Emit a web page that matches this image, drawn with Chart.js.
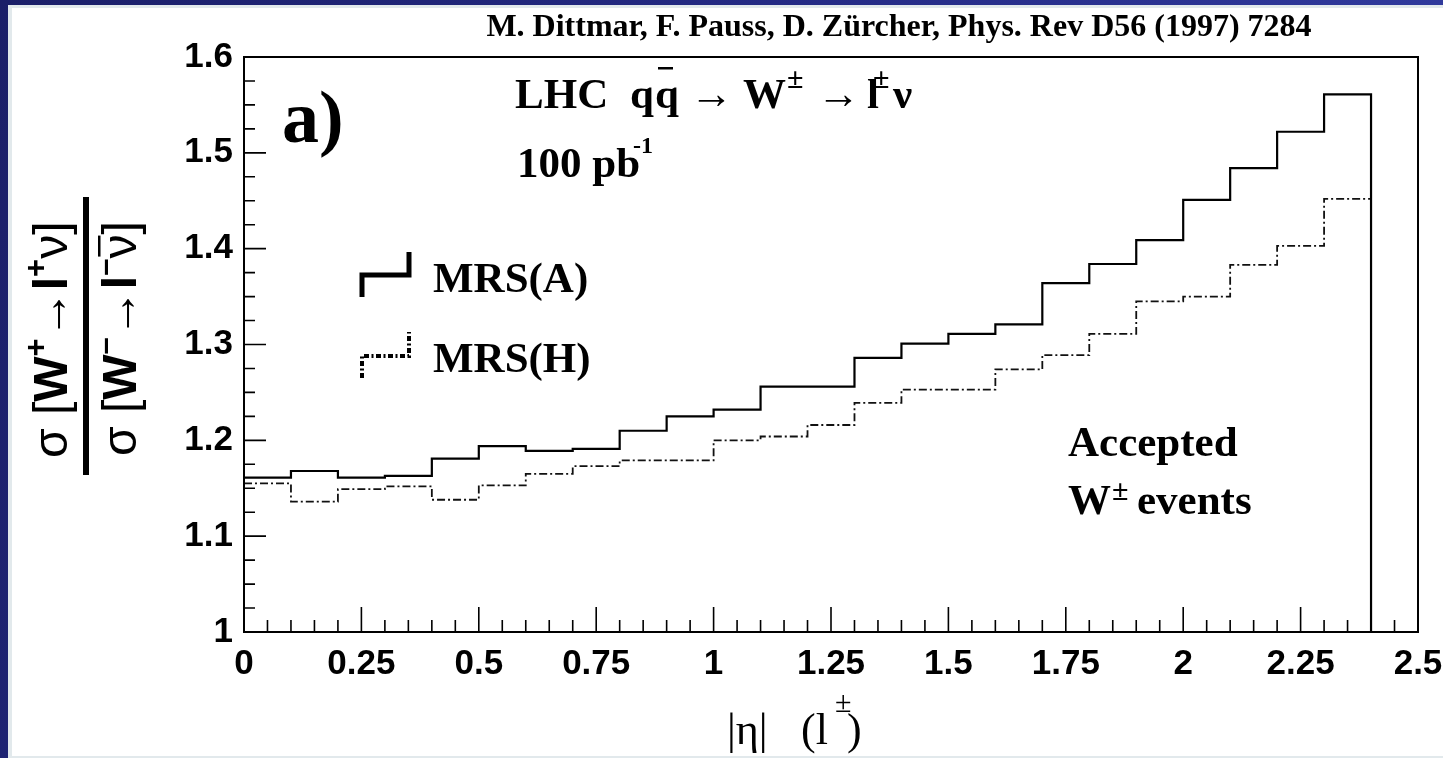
<!DOCTYPE html>
<html>
<head>
<meta charset="utf-8">
<script src="https://cdn.jsdelivr.net/npm/chart.js@4.4.1/dist/chart.umd.min.js"></script>
<style>
  html, body { margin: 0; padding: 0; }
  body {
    width: 1443px; height: 758px; overflow: hidden; position: relative;
    background: linear-gradient(110deg, #1b1f68 0%, #242a84 45%, #3540a6 100%);
  }
  #panel {
    position: absolute; left: 8px; top: 5px; right: 0; bottom: 0;
    background: #fff; box-sizing: border-box;
    border-left: 4px solid #e2e9ec; border-top: 3px solid #e2e9ec; border-bottom: 2px solid #e2e9ec;
  }
  #ratioChart { position: absolute; left: 0; top: 0; }
</style>
</head>
<body>
<div id="panel"></div>
<canvas id="ratioChart" width="1443" height="758"></canvas>
<script>
// |eta| bins (lower edges), last bin closes at etaMax
const binLow = [0, 0.1, 0.2, 0.3, 0.4, 0.5, 0.6, 0.7, 0.8, 0.9, 1.0, 1.1,
                1.2, 1.3, 1.4, 1.5, 1.6, 1.7, 1.8, 1.9, 2.0, 2.1, 2.2, 2.3];
const etaMax = 2.4;

// sigma(W+ -> l+ nu) / sigma(W- -> l- nubar) per bin
const ratioMRSA = [1.161, 1.168, 1.161, 1.163, 1.181, 1.194, 1.189, 1.191, 1.210, 1.225, 1.232, 1.256,
                   1.256, 1.286, 1.301, 1.311, 1.321, 1.364, 1.384, 1.409, 1.451, 1.484, 1.522, 1.561];
const ratioMRSH = [1.155, 1.136, 1.149, 1.152, 1.138, 1.153, 1.165, 1.173, 1.179, 1.179, 1.200, 1.204,
                   1.216, 1.239, 1.253, 1.253, 1.274, 1.289, 1.311, 1.345, 1.350, 1.383, 1.403, 1.452];

const xTickLabels = ['0', '0.25', '0.5', '0.75', '1', '1.25', '1.5', '1.75', '2', '2.25', '2.5'];
const yTickLabels = ['1', '1.1', '1.2', '1.3', '1.4', '1.5', '1.6'];

const citation = 'M. Dittmar, F. Pauss, D. Z\u00fcrcher, Phys. Rev D56 (1997) 7284';

const serif = (size, weight) => `${weight || 'normal'} ${size}px "Liberation Serif", "Times New Roman", serif`;
const sans = (size, weight) => `${weight || 'normal'} ${size}px "Liberation Sans", Arial, sans-serif`;
const tickFont = { family: '"Liberation Sans", Arial, sans-serif', size: 35, weight: 'bold' };

// histogram outline: one point per lower edge, closed at etaMax (optionally dropped to the axis)
function histPoints(vals, dropTo) {
  const pts = binLow.map((x, i) => ({ x: x, y: vals[i] }));
  pts.push({ x: etaMax, y: vals[vals.length - 1] });
  if (dropTo !== undefined) pts.push({ x: etaMax, y: dropTo });
  return pts;
}

// draws a list of text pieces one after another, returns the end position
function runs(ctx, parts, x, y) {
  let cx = x;
  for (const p of parts) {
    ctx.font = p.font;
    const w = ctx.measureText(p.t).width;
    ctx.fillText(p.t, cx + (p.dx || 0), y + (p.dy || 0));
    if (p.bar) ctx.fillRect(cx + (p.dx || 0) + 2, y + p.bar, w - 3, 2.5);
    cx += w + (p.dx || 0) + (p.gap || 0);
  }
  return cx;
}

// frame with ROOT-style inward ticks
const frameTicks = {
  id: 'frameTicks',
  afterDatasetsDraw(chart) {
    const { ctx, chartArea: a, scales: { x, y } } = chart;
    ctx.save();
    ctx.strokeStyle = '#000';
    ctx.lineWidth = 2;
    ctx.strokeRect(a.left, a.top, a.right - a.left, a.bottom - a.top);
    ctx.lineWidth = 1.6;
    ctx.beginPath();
    for (let k = 1; k < 50; k++) {
      const px = x.getPixelForValue(k * 0.05);
      const len = k % 5 === 0 ? 25 : 12;
      ctx.moveTo(px, a.bottom);
      ctx.lineTo(px, a.bottom - len);
    }
    for (let k = 1; k < 24; k++) {
      const py = y.getPixelForValue(1 + k * 0.025);
      const len = k % 4 === 0 ? 22 : 11;
      ctx.moveTo(a.left, py);
      ctx.lineTo(a.left + len, py);
    }
    ctx.stroke();
    ctx.restore();
  }
};

// labels, legend and axis titles
const annotations = {
  id: 'annotations',
  afterDraw(chart) {
    const { ctx, chartArea: a } = chart;
    const L = a.left, T = a.top;
    ctx.save();
    ctx.fillStyle = '#000';
    ctx.strokeStyle = '#000';
    ctx.textBaseline = 'alphabetic';

    ctx.font = serif(32, 'bold');
    ctx.textAlign = 'center';
    ctx.fillText(citation, L + 655, T - 21);
    ctx.textAlign = 'left';

    ctx.font = serif(74, 'bold');
    ctx.fillText('a)', L + 38, T + 85);

    // process line
    const big = serif(43, 'bold');
    const arrow = serif(43);
    const sup = serif(30, 'bold');
    ctx.font = big;
    ctx.fillText('LHC', L + 271, T + 51);
    ctx.fillText('q', L + 386, T + 51);
    ctx.fillText('q', L + 411, T + 51);
    ctx.fillRect(L + 414, T + 10, 15, 2.5);
    ctx.font = arrow;
    ctx.fillText('\u2192', L + 446, T + 51);
    ctx.fillText('\u2192', L + 573, T + 51);
    ctx.font = big;
    ctx.fillText('W', L + 499, T + 51);
    ctx.fillText('l', L + 623, T + 51);
    ctx.fillText('\u03bd', L + 649, T + 51);
    ctx.font = sup;
    ctx.fillText('\u00b1', L + 543, T + 31);
    ctx.fillText('\u00b1', L + 629, T + 31);

    ctx.font = big;
    ctx.fillText('100 pb', L + 273, T + 120);
    ctx.font = serif(24, 'bold');
    ctx.fillText('-1', L + 389, T + 96);

    // legend
    ctx.lineWidth = 5;
    ctx.lineCap = 'butt';
    ctx.beginPath();
    ctx.moveTo(L + 118, T + 240);
    ctx.lineTo(L + 118, T + 218);
    ctx.lineTo(L + 165, T + 218);
    ctx.lineTo(L + 165, T + 195);
    ctx.stroke();
    ctx.lineWidth = 4;
    ctx.setLineDash([5, 2.5, 2, 2.5]);
    ctx.beginPath();
    ctx.moveTo(L + 118, T + 321);
    ctx.lineTo(L + 118, T + 299);
    ctx.lineTo(L + 165, T + 299);
    ctx.lineTo(L + 165, T + 275);
    ctx.stroke();
    ctx.setLineDash([]);
    ctx.font = serif(43, 'bold');
    ctx.fillText('MRS(A)', L + 189, T + 235);
    ctx.fillText('MRS(H)', L + 189, T + 315);

    ctx.fillText('Accepted', L + 824, T + 399);
    ctx.fillText('W', L + 824, T + 457);
    ctx.fillText('events', L + 893, T + 457);
    ctx.font = serif(30, 'bold');
    ctx.fillText('\u00b1', L + 868, T + 443);

    // x axis title
    ctx.font = serif(44);
    ctx.fillText('|\u03b7|', L + 483, a.bottom + 112);
    ctx.fillText('(l', L + 557, a.bottom + 112);
    ctx.fillText(')', L + 603, a.bottom + 112);
    ctx.font = serif(30);
    ctx.fillText('\u00b1', L + 591, a.bottom + 80);

    // y axis title: rotated fraction
    const fs = 48, fsup = 31;
    const numer = [
      { t: '\u03c3', font: sans(fs) },
      { t: ' [', font: sans(fs) },
      { t: 'W', font: sans(fs, 'bold') },
      { t: '+', font: sans(fsup, 'bold'), dy: -21 },
      { t: '\u2192', font: sans(fs) },
      { t: 'l', font: sans(fs, 'bold') },
      { t: '+', font: sans(fsup, 'bold'), dy: -21 },
      { t: '\u03bd', font: sans(fs) },
      { t: ']', font: sans(fs) }
    ];
    const denom = [
      { t: '\u03c3', font: sans(fs) },
      { t: ' [', font: sans(fs) },
      { t: 'W', font: sans(fs, 'bold') },
      { t: '\u2013', font: sans(fsup, 'bold'), dy: -21 },
      { t: '\u2192', font: sans(fs) },
      { t: 'l', font: sans(fs, 'bold') },
      { t: '\u2013', font: sans(fsup, 'bold'), dy: -21 },
      { t: '\u03bd', font: sans(fs), bar: -38 },
      { t: ']', font: sans(fs) }
    ];
    ctx.save();
    ctx.translate(L - 177, T + 401);
    ctx.rotate(-Math.PI / 2);
    runs(ctx, numer, 0, 0);
    ctx.restore();
    ctx.save();
    ctx.translate(L - 108, T + 399);
    ctx.rotate(-Math.PI / 2);
    runs(ctx, denom, 0, 0);
    ctx.restore();
    ctx.fillRect(L - 161, T + 140, 6, 278);

    ctx.restore();
  }
};

new Chart(document.getElementById('ratioChart'), {
  type: 'line',
  data: {
    datasets: [
      {
        label: 'MRS(A)',
        data: histPoints(ratioMRSA, 1.0),
        borderColor: '#000',
        borderWidth: 2.2,
        stepped: 'before',
        pointRadius: 0,
        fill: false
      },
      {
        label: 'MRS(H)',
        data: histPoints(ratioMRSH),
        borderColor: '#111',
        borderWidth: 1.8,
        borderDash: [8, 3, 2, 3],
        stepped: 'before',
        pointRadius: 0,
        fill: false
      }
    ]
  },
  options: {
    responsive: false,
    animation: false,
    devicePixelRatio: 1,
    layout: { padding: { top: 57, right: 25, left: 0, bottom: 0 } },
    plugins: {
      legend: { display: false },
      tooltip: { enabled: false }
    },
    scales: {
      x: {
        type: 'linear',
        min: 0,
        max: 2.5,
        afterFit: s => { s.height = 126; s.paddingLeft = 0; s.paddingRight = 0; },
        grid: { display: false, drawTicks: false },
        border: { display: false },
        ticks: {
          stepSize: 0.25,
          autoSkip: false,
          maxRotation: 0,
          padding: 11,
          color: '#000',
          font: tickFont,
          callback: (v, i) => xTickLabels[i]
        }
      },
      y: {
        type: 'linear',
        min: 1,
        max: 1.6,
        afterFit: s => { s.width = 244; s.paddingTop = 0; s.paddingBottom = 0; },
        grid: { display: false, drawTicks: false },
        border: { display: false },
        ticks: {
          stepSize: 0.1,
          padding: 11,
          color: '#000',
          font: tickFont,
          callback: (v, i) => yTickLabels[i]
        }
      }
    }
  },
  plugins: [frameTicks, annotations]
});
</script>
</body>
</html>
